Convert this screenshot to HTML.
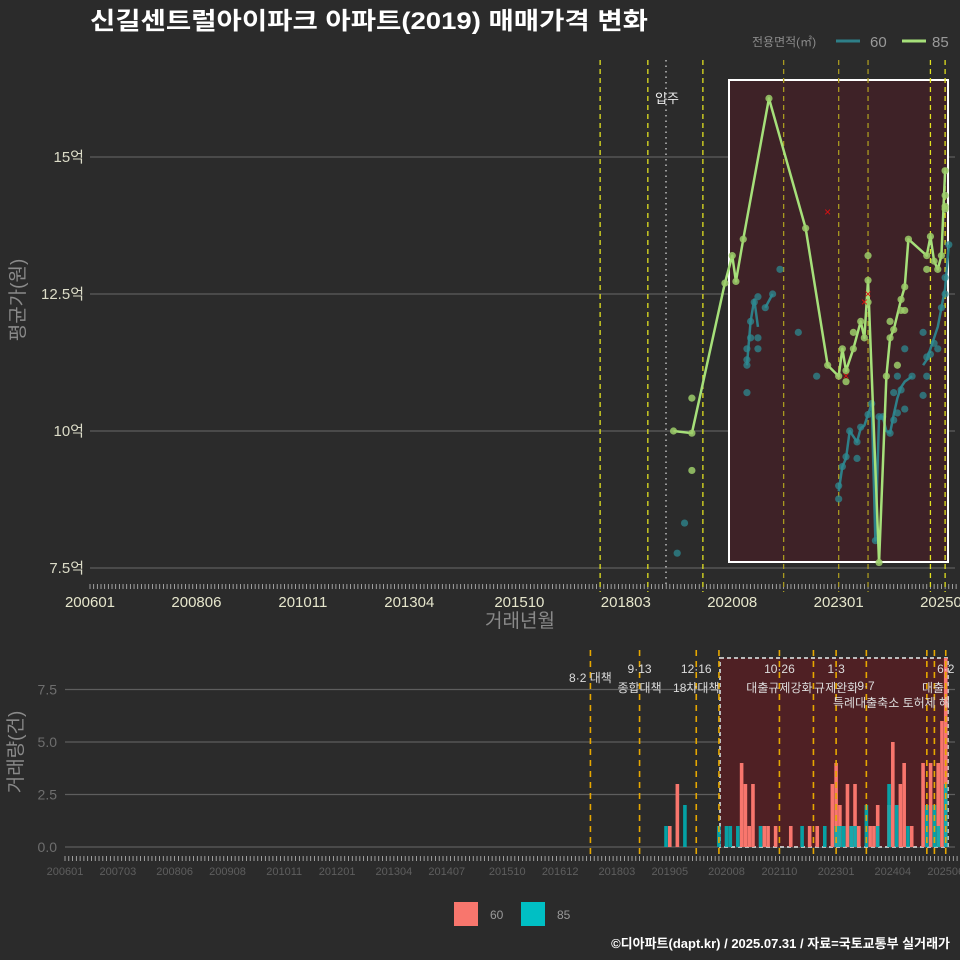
<!DOCTYPE html>
<html><head><meta charset="utf-8">
<style>
html,body{margin:0;padding:0;background:#2b2b2b;}
svg{display:block;font-family:"Liberation Sans","Noto Sans CJK KR",sans-serif;}
</style></head>
<body>
<svg id="chart" width="960" height="960" viewBox="0 0 960 960">
<rect x="0" y="0" width="960" height="960" fill="#2b2b2b"/>
<text x="90" y="29" fill="#ffffff" font-size="24" font-weight="bold" textLength="558" lengthAdjust="spacingAndGlyphs">신길센트럴아이파크 아파트(2019) 매매가격 변화</text>
<g>
<text x="752" y="46" fill="#8a8a8a" font-size="12">전용면적(㎡)</text>
<line x1="836" y1="41" x2="860" y2="41" stroke="#2e7f88" stroke-width="3"/>
<text x="870" y="47" fill="#999" font-size="15">60</text>
<line x1="902" y1="41" x2="926" y2="41" stroke="#a6e07a" stroke-width="3"/>
<text x="932" y="47" fill="#999" font-size="15">85</text>
</g>
<g id="topPanel"></g>
<g id="botPanel"></g>
<g>
<rect x="454" y="902" width="24" height="24" fill="#f8766d"/>
<text x="490" y="919" fill="#999" font-size="12">60</text>
<rect x="521" y="902" width="24" height="24" fill="#00bfc4"/>
<text x="557" y="919" fill="#999" font-size="12">85</text>
</g>
<text x="950" y="948" fill="#ffffff" font-size="13" font-weight="bold" text-anchor="end">©디아파트(dapt.kr) / 2025.07.31 / 자료=국토교통부 실거래가</text>
</svg>
<script>
// months are counted from 2006-01 (=0)
const xTickLabels = ["200601","200806","201011","201304","201510","201803","202008","202301","202506"];
const xTickMonths = [0,29,58,87,117,146,175,204,233];
const yTickValues = [7.5,10,12.5,15];
const yTickLabels = ["7.5억","10억","12.5억","15억"];
const line85Months = [159,164,173,175,176,178,185,195,201,204,205,206,208,210,211,212,215,217,218,219,221,222,223,228,229,230,231,232,233];
const line85Values = [10.0,9.96,12.7,13.2,12.73,13.5,16.07,13.7,11.2,11.0,11.5,11.1,11.5,12.0,11.7,12.75,7.6,11.0,11.7,11.85,12.4,12.63,13.5,13.2,13.55,13.1,12.95,13.2,14.75];
const dots85Months = [164,164,212,208,206,218,221,222,220,233,228,233,233,212];
const dots85Values = [10.6,9.28,13.2,11.8,10.9,12.0,12.2,12.2,11.2,14.1,12.95,14.3,14.05,12.35];
const dots60Months = [160,162,179,179,179,179,180,181,182,182,182,180,184,186,188,193,198,204,204,205,206,207,209,209,210,212,213,214,215,216,218,219,219,220,221,220,222,222,224,227,227,228,228,229,230,231,232,233,233,234];
const dots60Values = [7.77,8.32,10.7,11.2,11.3,11.5,12.0,12.35,12.45,11.7,11.5,11.7,12.25,12.5,12.95,11.8,11.0,8.76,9.0,9.35,9.53,10.0,9.8,9.5,10.07,10.3,10.5,8.0,10.26,10.26,9.96,10.2,10.7,10.33,10.75,11.0,10.4,11.5,11.0,10.65,11.8,11.0,11.35,11.4,11.6,11.5,12.25,12.5,12.8,13.4];
const line60Months = [179,180,181,182,null,184,186,null,204,205,206,207,208,209,210,211,212,213,214,215,216,217,218,219,220,221,222,223,224,null,227,228,229,230,231,232,233,234];
const line60Values = [11.2,12.0,12.4,11.9,null,12.25,12.5,null,8.9,9.35,9.5,10.0,9.9,9.8,10.05,10.1,10.3,10.5,8.0,10.26,10.26,10.0,9.96,10.3,10.6,10.8,10.9,10.95,11.0,null,11.2,11.3,11.5,11.7,11.9,12.25,12.6,13.4];
const crossMonths = [201,206,211,212];
const crossValues = [14.0,11.0,12.35,12.5];
const policyMonths = [139,152,167,189,204,212,229,233];
const vol60Months = [160,162,179,180,181,182,185,186,188,192,197,199,203,204,205,207,208,209,210,213,214,215,218,219,221,222,224,227,229,231,232,233];
const vol60Counts = [1,3,4,3,1,3,1,1,1,1,1,1,3,4,2,3,1,3,1,1,1,2,2,5,3,4,1,4,4,4,6,9];
const vol85Months = [159,164,173,175,176,178,184,195,201,204,205,206,208,209,212,215,218,220,223,228,230,231,233];
const vol85Counts = [1,2,1,1,1,1,1,1,1,1,1,1,1,1,2,1,3,2,1,2,2,1,3];
const botTickLabels = ["200601","200703","200806","200908","201011","201201","201304","201407","201510","201612","201803","201905","202008","202110","202301","202404","202506"];
const botTickMonths = [0,14,29,43,58,72,87,101,117,131,146,160,175,189,204,219,233];
const volTicks = [0,2.5,5,7.5];
const volTickLabels = ["0.0","2.5","5.0","7.5"];
const bPolicyMonths = [139,152,167,173,189,198,204,212,228,230,233];
const policyLabelMonths = [139,152,167,189,204,212,233];
const policyTop = ["8·2 대책","9·13","12·16","10·26","1·3","","6·2"];
const policyBot = ["","종합대책","18차대책","대출규제강화","규제완화","",""];

const NS="http://www.w3.org/2000/svg";
function mk(parent,tag,attrs,name,text){
  const e=document.createElementNS(NS,tag);
  for(const k in attrs)e.setAttribute(k,attrs[k]);
  
  
  if(text!==undefined)e.textContent=text;
  parent.appendChild(e);return e;
}
const xT=m=>90+3.67*m;
const yT=v=>431-(v-10)*54.8;
const xB=m=>65+3.78*m;
const yB=c=>847-c*21;
const topG=document.getElementById('topPanel'), botG=document.getElementById('botPanel');

// ---- top panel
yTickValues.forEach((v,i)=>{
  mk(topG,'line',{x1:90,x2:955,y1:yT(v),y2:yT(v),stroke:'#5e5e5e','stroke-width':1.2},'y-gridline');
  mk(topG,'text',{x:84,y:yT(v)+5,fill:'#dcdcc8','font-size':15,'text-anchor':'end'},'y-tick-label',yTickLabels[i]);
});
mk(topG,'rect',{x:729,y:80,width:219,height:482,fill:'#3e2227',stroke:'#ffffff','stroke-width':2},'highlight-period-box');
for(let m=0;m<=236;m++){mk(topG,'line',{x1:xT(m),x2:xT(m),y1:584,y2:589,stroke:'#bbb','stroke-width':0.8},'x-minor-tick');}
policyMonths.forEach((m,i)=>{
  const inside = xT(m)>729 && xT(m)<928;
  mk(topG,'line',{x1:xT(m),x2:xT(m),y1:60,y2:592,stroke:inside?'#a99a20':'#e0e020','stroke-width':1.3,'stroke-dasharray':'5,4'},'policy-line');
});
mk(topG,'line',{x1:666,x2:666,y1:60,y2:585,stroke:'#bbbbbb','stroke-width':1.5,'stroke-dasharray':'1.5,4'},'move-in-line');
mk(topG,'text',{x:667,y:103,fill:'#eeeeee','font-size':13,'text-anchor':'middle'},'move-in-label','입주');
xTickLabels.forEach((l,i)=>{
  mk(topG,'text',{x:xT(xTickMonths[i]),y:607,fill:'#e6e6cc','font-size':15,'text-anchor':'middle'},'x-tick-label',l);
});
mk(topG,'text',{x:520,y:627,fill:'#8a8a8a','font-size':19,'text-anchor':'middle'},'x-axis-title','거래년월');
mk(topG,'text',{x:24,y:300,fill:'#8a8a8a','font-size':19,'text-anchor':'middle',transform:'rotate(-90 24 300)'},'y-axis-title','평균가(원)');
let d='';let pen=false;
line60Months.forEach((m,i)=>{ if(m===null){pen=false;return;} d+=(pen?'L':'M')+xT(m)+','+yT(line60Values[i]);pen=true;});
mk(topG,'path',{d:d,fill:'none',stroke:'#2e7f88','stroke-width':2.5,'stroke-linejoin':'round'},'line-60');
dots60Months.forEach((m,i)=>mk(topG,'circle',{cx:xT(m),cy:yT(dots60Values[i]),r:3.6,fill:'#2e8a92','fill-opacity':0.75},'point-60'));
let d2='';
line85Months.forEach((m,i)=>{d2+=(i?'L':'M')+xT(m)+','+yT(line85Values[i]);});
mk(topG,'path',{d:d2,fill:'none',stroke:'#a6e07a','stroke-width':2.5,'stroke-linejoin':'round'},'line-85');
line85Months.forEach((m,i)=>mk(topG,'circle',{cx:xT(m),cy:yT(line85Values[i]),r:3.6,fill:'#9ccc6a','fill-opacity':0.85},'point-85'));
dots85Months.forEach((m,i)=>mk(topG,'circle',{cx:xT(m),cy:yT(dots85Values[i]),r:3.6,fill:'#9ccc6a','fill-opacity':0.85},'point-85'));
crossMonths.forEach((m,i)=>mk(topG,'text',{x:xT(m),y:yT(crossValues[i])+4,fill:'#e01010','font-size':12,'text-anchor':'middle'},'outlier-mark','×'));

// ---- bottom panel
volTicks.forEach((v,i)=>{
  mk(botG,'line',{x1:65,x2:955,y1:yB(v),y2:yB(v),stroke:'#5e5e5e','stroke-width':1.2},'vol-gridline');
  mk(botG,'text',{x:57,y:yB(v)+5,fill:'#6e6e6e','font-size':14,'text-anchor':'end'},'vol-tick-label',volTickLabels[i]);
});
mk(botG,'rect',{x:720,y:658,width:228,height:189,fill:'#4f2024',stroke:'#bbbbbb','stroke-width':2,'stroke-dasharray':'4,3'},'highlight-period-box-bottom');
for(let m=0;m<=236;m++){mk(botG,'line',{x1:xB(m),x2:xB(m),y1:856,y2:861,stroke:'#bbb','stroke-width':0.8},'vol-minor-tick');}
vol60Months.forEach((m,i)=>mk(botG,'rect',{x:xB(m)-1.8,y:yB(vol60Counts[i]),width:3.6,height:vol60Counts[i]*21,fill:'#f8766d'},'bar-60'));
vol85Months.forEach((m,i)=>mk(botG,'rect',{x:xB(m)-1.8,y:yB(vol85Counts[i]),width:3.6,height:vol85Counts[i]*21,fill:'#00aeb3','fill-opacity':0.9},'bar-85'));
bPolicyMonths.forEach(m=>mk(botG,'line',{x1:xB(m),x2:xB(m),y1:650,y2:857,stroke:'#e6a700','stroke-width':1.6,'stroke-dasharray':'6,5'},'vol-policy-line'));
policyLabelMonths.forEach((m,i)=>{
  if(policyTop[i]) mk(botG,'text',{x:xB(m),y:i===0?682:673,fill:'#dddddd','font-size':12,'text-anchor':'middle'},'policy-date-label',policyTop[i]);
  if(policyBot[i]) mk(botG,'text',{x:xB(m),y:692,fill:'#dddddd','font-size':12,'text-anchor':'middle'},'policy-name-label',policyBot[i]);
});
mk(botG,'text',{x:866,y:690,fill:'#dddddd','font-size':12,'text-anchor':'middle'},'policy-date-label','9·7');
mk(botG,'text',{x:833,y:707,fill:'#dddddd','font-size':12},'policy-name-label','특례대출축소 토허제 해');
mk(botG,'text',{x:922,y:692,fill:'#dddddd','font-size':12},'policy-name-label','대출');
botTickLabels.forEach((l,i)=>mk(botG,'text',{x:xB(botTickMonths[i]),y:875,fill:'#5e5e5e','font-size':11,'text-anchor':'middle'},'vol-x-tick-label',l));
mk(botG,'text',{x:22,y:752,fill:'#8a8a8a','font-size':19,'text-anchor':'middle',transform:'rotate(-90 22 752)'},'vol-y-axis-title','거래량(건)');
</script>
</body></html>
